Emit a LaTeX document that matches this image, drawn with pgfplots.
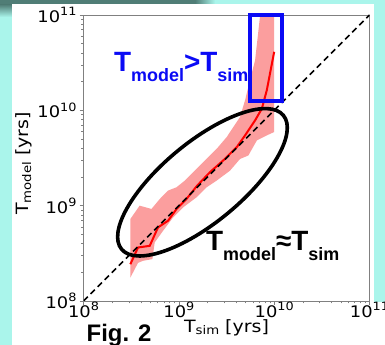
\documentclass[border=0pt]{standalone}
\usepackage{pgfplots}
\pgfplotsset{compat=1.18}
\usepackage{fontspec}
\setmainfont{Liberation Sans}
\newfontfamily\mpl[FakeStretch=1.12]{DejaVu Sans}
\definecolor{cyanbg}{RGB}{170,245,235}
\definecolor{tealdark}{RGB}{80,125,118}
\definecolor{bandred}{RGB}{251,158,158}
\definecolor{annblue}{RGB}{10,10,245}
\newcommand{\tp}[1]{10\raisebox{0.42em}{\fontsize{11.5}{11.5}\selectfont #1}}
\begin{document}
\begin{tikzpicture}
% slide background
\fill[cyanbg] (0,0) rectangle (385bp,345bp);
\fill[tealdark] (0,340.5bp) rectangle (195bp,345bp);
\shade[left color=tealdark, right color=cyanbg] (195bp,340.5bp) rectangle (215bp,345bp);
\shade[top color=tealdark, bottom color=cyanbg] (0,328bp) rectangle (12.3bp,340.5bp);
\fill[white] (12.3bp,0) rectangle (373.5bp,341bp);
\fill[white] (373bp,0) rectangle (385bp,43bp);
\begin{axis}[
  at={(83.5bp,44bp)}, anchor=south west,
  scale only axis, width=286bp, height=286bp,
  xmode=log, ymode=log,
  xmin=1e8, xmax=1e11, ymin=1e8, ymax=1e11,
  axis line style={draw=black!50, line width=0.7bp},
  tick align=outside, tick pos=left,
  major tick length=4bp, minor tick length=2.5bp,
  tick style={draw=black!50, line width=0.6bp},
  xtick={1e8,1e9,1e10,1e11}, ytick={1e8,1e9,1e10,1e11},
  xticklabels={\tp{8},\tp{9},\tp{10},\tp{11}},
  yticklabels={\tp{8},\tp{9},\tp{10},\tp{11}},
  ticklabel style={font=\mpl\fontsize{16}{16}\selectfont},
  xticklabel style={yshift=6.5bp},
  yticklabel style={xshift=0.5bp},
]
% shaded spread band
\addplot[draw=none, fill=bandred] coordinates {
 (3.10e8,7.24e8) (3.88e8,1.0e9) (5.16e8,9.23e8) (6.31e8,1.175e9)
 (7.71e8,1.439e9) (9.46e8,1.56e9) (1.156e9,1.832e9) (1.416e9,2.244e9)
 (1.879e9,2.98e9) (2.495e9,3.95e9) (3.177e9,5.24e9) (3.73e9,6.67e9)
 (4.385e9,8.51e9) (4.95e9,1.274e10) (5.58e9,2.07e10) (6.31e9,3.36e10)
 (7.13e9,1e11) (7.66e9,1.82e11) (1e10,2e11)
 (1e10,5.92e9) (8.37e9,5.46e9) (6.58e9,4.83e9) (5.36e9,3.36e9)
 (4.385e9,3.09e9) (3.44e9,2.33e9) (2.495e9,1.832e9) (1.959e9,1.56e9)
 (1.535e9,1.225e9) (1.109e9,9.59e8) (8.71e8,7.53e8) (6.84e8,5.46e8)
 (5.58e8,4.11e8) (5.28e8,2.75e8) (4.21e8,2.64e8) (3.73e8,2.51e8)
 (3.10e8,1.76e8)
};
% median
\addplot[red, line width=2bp] coordinates {
 (3.10e8,2.43e8) (3.73e8,3.64e8) (4.95e8,3.79e8) (6.05e8,5.92e8)
 (7.71e8,6.95e8) (9.46e8,9.23e8) (1.205e9,1.178e9) (1.56e9,1.626e9)
 (2.12e9,2.244e9) (2.92e9,2.98e9) (4.05e9,4.11e9) (4.95e9,5.46e9)
 (6.31e9,7.85e9) (7.43e9,1.042e10) (8.37e9,1.626e10) (1.0e10,4.11e10)
};
% one-to-one line
\addplot[black, line width=1.6bp, dash pattern=on 6bp off 4bp] coordinates {(1e8,1e8) (1e11,1e11)};
\coordinate (ec) at (axis cs:1.77e9,1.76e9);
\coordinate (r1) at (axis cs:5.52e9,1e11);
\coordinate (r2) at (axis cs:1.197e10,1.24e10);
\end{axis}
% annotations
\draw[black, line width=3.6bp, rotate around={39.6:(ec)}] (ec) ellipse [x radius=105bp, y radius=40bp];
\draw[annblue, line width=4bp] (r1) rectangle (r2);
\node[anchor=base west, inner sep=0, text=annblue, font=\bfseries\fontsize{28}{28}\selectfont] at (114bp,273bp)
  {T\raisebox{-9.5bp}{\fontsize{18}{18}\selectfont model}>T\raisebox{-9.5bp}{\fontsize{18}{18}\selectfont sim}};
\node[anchor=base west, inner sep=0, text=black, font=\bfseries\fontsize{28}{28}\selectfont] at (206bp,94bp)
  {T\raisebox{-9.5bp}{\fontsize{18}{18}\selectfont model}≈T\raisebox{-9.5bp}{\fontsize{18}{18}\selectfont sim}};
\node[anchor=base west, inner sep=0, font=\bfseries\fontsize{24}{24}\selectfont] at (86.5bp,4bp) {Fig. 2};
\node[anchor=base, inner sep=0, font=\mpl\fontsize{17}{17}\selectfont] at (226.5bp,13bp)
  {T\raisebox{-2.5bp}{\fontsize{11.9}{11.9}\selectfont sim} [yrs]};
\node[rotate=90, anchor=base, inner sep=0, font=\mpl\fontsize{17}{17}\selectfont] at (28.5bp,181.5bp)
  {T\raisebox{-2.5bp}{\fontsize{11.9}{11.9}\selectfont model} [yrs]};
\pgfresetboundingbox
\useasboundingbox (0,0) rectangle (385bp,345bp);
\end{tikzpicture}
\end{document}
